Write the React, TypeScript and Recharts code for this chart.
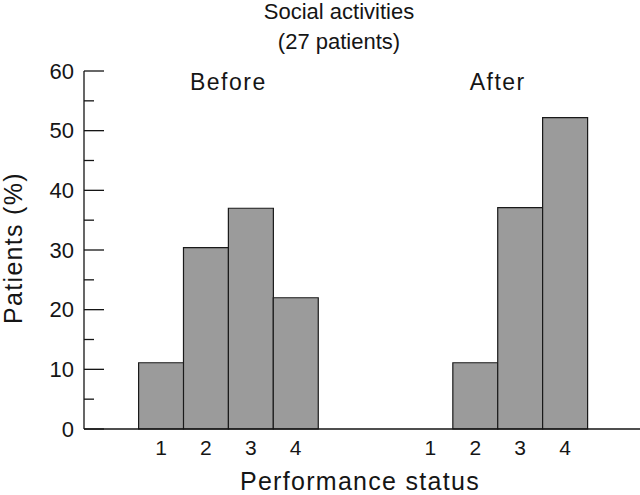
import React from 'react';
import { BarChart, Bar, XAxis, YAxis, ReferenceArea } from 'recharts';

// Performance status distribution, % of 27 patients
const statusLabels = ['1', '2', '3', '4'];
const beforeSlots = [1, 2, 3, 4];
const afterSlots = [7, 8, 9, 10];
const emptySlots = [5, 6];
const beforeValues = [11.1, 30.4, 37.0, 22.0];
const afterValues = [0, 11.1, 37.1, 52.2];
const yTicks = [0, 5, 10, 15, 20, 25, 30, 35, 40, 45, 50, 55, 60];

const chartData = [
  ...beforeSlots.map((slot, i) => ({ slot, label: statusLabels[i], value: beforeValues[i] })),
  ...emptySlots.map((slot) => ({ slot, label: '', value: null as number | null })),
  ...afterSlots.map((slot, i) => ({ slot, label: statusLabels[i], value: afterValues[i] })),
];

const FONT = '"Liberation Sans", Arial, Helvetica, sans-serif';
const INK = '#151515';

const slotLabel = (v: number) => {
  const row = chartData.find((d) => d.slot === v);
  return row ? row.label : '';
};

const YTick = (props: any) => {
  const { x, y, payload } = props;
  const major = payload.value % 10 === 0;
  return (
    <g>
      <line x1={x} x2={x + (major ? 20 : 10)} y1={y} y2={y} stroke={INK} strokeWidth={1.3} />
      {major && (
        <text x={x - 10} y={y} dy="0.355em" textAnchor="end" fontSize={22} fontFamily={FONT} fill={INK}>
          {payload.value}
        </text>
      )}
    </g>
  );
};

const groupLabel = (value: string) => ({
  value,
  position: 'center' as const,
  fontSize: 23,
  letterSpacing: 1.5,
  fontFamily: FONT,
  fill: INK,
});

export default function App() {
  return (
    <div style={{ position: 'relative', width: 640, height: 495, background: '#fff' }}>
      <style>{'body{margin:0}'}</style>
      <BarChart
        width={640}
        height={495}
        data={chartData}
        barCategoryGap={0}
        barGap={0}
        margin={{ top: 71, right: 0, left: 0, bottom: 0 }}
      >
        <XAxis
          type="category"
          dataKey="slot"
          padding={{ left: 54.6, right: 52.5 }}
          interval={0}
          tickFormatter={slotLabel}
          height={66}
          tickLine={false}
          tickSize={0}
          tickMargin={11}
          stroke={INK}
          strokeWidth={1.3}
          tick={{ fill: INK, fontSize: 21, fontFamily: FONT }}
        />
        <YAxis
          type="number"
          domain={[0, 60]}
          ticks={yTicks}
          interval={0}
          width={84}
          tickLine={false}
          tickSize={0}
          tickMargin={0}
          stroke={INK}
          strokeWidth={1.3}
          tick={<YTick />}
        />
        <ReferenceArea x1={1} x2={4} y1={56.5} y2={60} fill="none" stroke="none" label={groupLabel('Before')} />
        <ReferenceArea x1={7} x2={10} y1={56.5} y2={60} fill="none" stroke="none" label={groupLabel('After')} />
        <Bar dataKey="value" fill="#9b9b9b" stroke="#1a1a1a" strokeWidth={1.2} isAnimationActive={false} />
      </BarChart>
      <svg
        width={640}
        height={495}
        style={{ position: 'absolute', left: 0, top: 0, pointerEvents: 'none' }}
        fontFamily={FONT}
        fill={INK}
      >
        <text x={339} y={19} textAnchor="middle" fontSize={22}>Social activities</text>
        <text x={339} y={49} textAnchor="middle" fontSize={22}>(27 patients)</text>
        <text x={22} y={248} textAnchor="middle" fontSize={25} letterSpacing={1.3} transform="rotate(-90 22 248)">
          Patients (%)
        </text>
        <text x={360} y={490} textAnchor="middle" fontSize={25} letterSpacing={1.3}>Performance status</text>
      </svg>
    </div>
  );
}
